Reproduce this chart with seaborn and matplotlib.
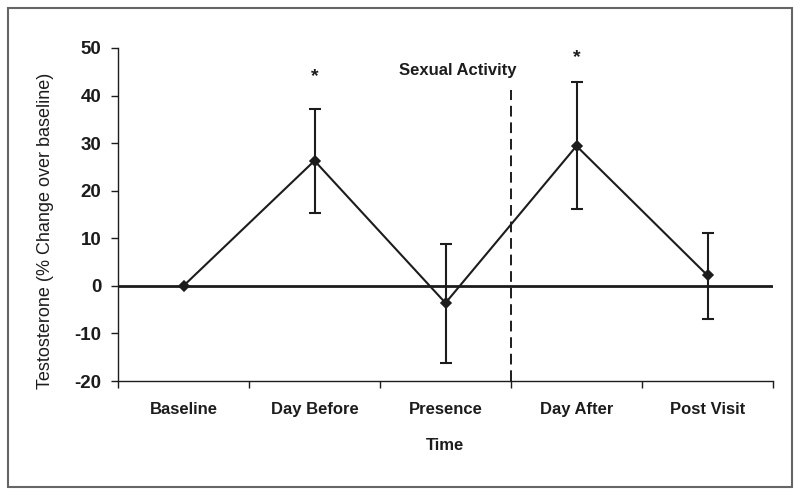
import numpy as np
import pandas as pd
import matplotlib
matplotlib.use("Agg")
import matplotlib.pyplot as plt
from matplotlib.patches import Rectangle
import seaborn as sns

# ---- data ----
categories = ["Baseline", "Day Before", "Presence", "Day After", "Post Visit"]
values = [0.0, 26.3, -3.6, 29.4, 2.2]
err_upper = [np.nan, 37.1, 8.7, 42.9, 11.2]
err_lower = [np.nan, 15.4, -16.2, 16.1, -6.9]
star_y = [np.nan, 43.9, np.nan, 48.0, np.nan]
y_ticks = [-20, -10, 0, 10, 20, 30, 40, 50]
event_label = "Sexual Activity"
event_pos = 2.5
event_top = 41.1

df = pd.DataFrame({"Time": categories, "value": values})

sns.set_theme(style="white")
plt.rcParams["font.family"] = ["Liberation Sans", "DejaVu Sans"]

ink = "#1c1c1c"
fig = plt.figure(figsize=(8, 4.96), dpi=100)
ax = fig.add_axes([118/800, 1 - 381/496, (773-118)/800, (381-48)/496])

ax.axhline(0, color=ink, lw=2, zorder=1)
ax.vlines(event_pos, -20, event_top, colors=ink, lw=1.4,
          linestyles=(0, (5.5, 3)), zorder=1)

sns.pointplot(data=df, x="Time", y="value", errorbar=None, color=ink,
              marker="D", markersize=5, linewidth=1.5, ax=ax, zorder=3)

xs = np.arange(len(categories))
vals = np.array(values)
up = np.array(err_upper) - vals
lo = vals - np.array(err_lower)
m = ~np.isnan(up)
ax.errorbar(xs[m], vals[m], yerr=[lo[m], up[m]], fmt="none", ecolor=ink,
            elinewidth=1.5, capsize=4, capthick=1.5, zorder=2)

for x, s in zip(xs, star_y):
    if not np.isnan(s):
        ax.text(x, s, "*", ha="center", va="center", fontsize=14,
                fontweight="bold", color=ink)

ax.text(2.09, 45.3, event_label, ha="center", va="center", fontsize=12,
        fontweight="bold", color=ink)

ax.set_xlim(-0.5, len(categories) - 0.5)
ax.set_ylim(-20, 50)
ax.set_yticks(y_ticks)
ax.set_yticklabels([str(t) for t in y_ticks], fontsize=13.5, fontweight="bold", color=ink)
ax.set_xticks(np.arange(len(categories) + 1) - 0.5)
ax.set_xticklabels([])
ax.set_xticks(xs, minor=True)
ax.set_xticklabels(categories, minor=True, fontsize=12, fontweight="bold", color=ink)
ax.tick_params(axis="x", which="major", direction="out", length=5, width=1, color=ink, bottom=True)
ax.tick_params(axis="x", which="minor", length=0, pad=15)
ax.tick_params(axis="y", direction="out", length=5, width=1, color=ink, pad=7, left=True)

ax.set_xlabel("Time", fontsize=12, fontweight="bold", color=ink, labelpad=15)
ax.set_ylabel("Testosterone (% Change over baseline)", fontsize=13, color=ink)
ax.yaxis.set_label_coords(-0.098, 0.45)

for side in ["top", "right"]:
    ax.spines[side].set_visible(False)
for side in ["left", "bottom"]:
    ax.spines[side].set_color(ink)
    ax.spines[side].set_linewidth(1)

fig.patches.append(Rectangle((8/800, 1 - 487/496), 784/800, 479/496,
                             transform=fig.transFigure, fill=False,
                             edgecolor="#666666", lw=1.5))

fig.savefig("out.png", dpi=100)
